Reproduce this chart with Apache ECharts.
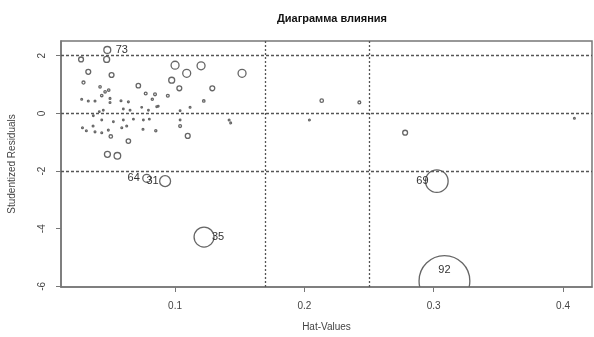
<!DOCTYPE html>
<html>
<head>
<meta charset="utf-8">
<script src="https://cdn.jsdelivr.net/npm/echarts@6/dist/echarts.min.js"></script>
<style>
  html, body { margin: 0; padding: 0; background: #fff; }
  #chart { width: 594px; height: 337px; }
</style>
</head>
<body>
<div id="chart"></div>
<script>
// influence plot data: hat value, studentized residual, Cook's distance
var hatValues = [
    0.0476, 0.0471, 0.0273, 0.0329, 0.0509, 0.0292, 0.0420, 0.0487, 0.0459, 0.0433,
    0.0716, 0.0773, 0.0845, 0.0824, 0.0944, 0.0974, 0.1000, 0.1090, 0.1033, 0.1201,
    0.1518, 0.1288, 0.1222, 0.1116, 0.1039, 0.0870, 0.1418, 0.1039, 0.1098, 0.1039,
    0.2134, 0.2425, 0.2039, 0.1430, 0.2779, 0.4088, 0.0781, 0.0923, 0.1224, 0.3024,
    0.3083, 0.0477, 0.0554, 0.0639, 0.0503, 0.0278, 0.0329, 0.0381, 0.0497, 0.0497,
    0.0582, 0.0639, 0.0445, 0.0414, 0.0600, 0.0652, 0.0742, 0.0794, 0.0858, 0.0368,
    0.0433, 0.0523, 0.0600, 0.0678, 0.0755, 0.0801, 0.0284, 0.0314, 0.0366, 0.0381,
    0.0433, 0.0484, 0.0588, 0.0626, 0.0752, 0.0851
];
var studRes = [
     2.20,  1.87,  1.87,  1.44,  1.33,  1.07,  0.92,  0.81,  0.75,  0.62,
     0.96,  0.69,  0.66,  0.49,  0.61,  1.15,  1.67,  1.39,  0.87,  1.65,
     1.39,  0.87,  0.43,  0.21,  0.09,  0.25, -0.23, -0.44, -0.78, -0.23,
     0.44,  0.38, -0.23, -0.33, -0.67, -0.17, -2.25, -2.35, -4.29, -2.35,
    -5.81, -1.42, -1.47, -0.96, -0.80,  0.49,  0.43,  0.43,  0.52,  0.38,
     0.44,  0.40,  0.11,  0.06,  0.15,  0.11,  0.21,  0.11,  0.23, -0.08,
    -0.23, -0.29, -0.23, -0.20, -0.23, -0.20, -0.50, -0.60, -0.44, -0.64,
    -0.67, -0.58, -0.50, -0.44, -0.55, -0.60
];
var cookD = [
    0.012, 0.009, 0.006, 0.006, 0.006, 0.0023, 0.0015, 0.0015, 0.0015, 0.0015,
    0.005, 0.002, 0.002, 0.0012, 0.002, 0.009, 0.016, 0.016, 0.006, 0.016,
    0.016, 0.006, 0.0015, 0.0008, 0.0006, 0.0006, 0.0008, 0.002, 0.006, 0.0006,
    0.003, 0.002, 0.0008, 0.0008, 0.006, 0.0008, 0.016, 0.03, 0.1, 0.129,
    0.65, 0.009, 0.011, 0.005, 0.003, 0.0008, 0.0008, 0.0008, 0.0008, 0.0008,
    0.0008, 0.0008, 0.0006, 0.0006, 0.0006, 0.0006, 0.0006, 0.0006, 0.0006, 0.0006,
    0.0006, 0.0006, 0.0006, 0.0006, 0.0006, 0.0006, 0.0008, 0.0008, 0.0008, 0.0008,
    0.0008, 0.0008, 0.0008, 0.0008, 0.0008, 0.0012
];
var pointIds = {0: '73', 36: '64', 37: '31', 38: '35', 39: '69', 40: '92'};
var hatTicks = [0.1, 0.2, 0.3, 0.4];
var resTicks = [-6, -4, -2, 0, 2];
var hatCutoffs = [0.1686, 0.2529];
var resCutoffs = [-2, 0, 2];

var FONT = 'Liberation Sans, Arial, sans-serif';
var labelSide = {
    '73': {dx: 5, dy: 0, align: 'left'},
    '64': {dx: -3, dy: 0, align: 'right'},
    '31': {dx: -1, dy: 0, align: 'right'},
    '35': {dx: -2, dy: 0, align: 'left'},
    '69': {dx: 3, dy: 0, align: 'right'},
    '92': {dx: 0, dy: -11, align: 'center'}
};

var points = hatValues.map(function (h, i) {
    return [h, studRes[i], cookD[i]];
});

function renderPoint(params, api) {
    var pt = api.coord([api.value(0), api.value(1)]);
    var r = Math.max(0.8, 31.5 * Math.sqrt(api.value(2)));
    var children = [{
        type: 'circle',
        shape: {cx: pt[0], cy: pt[1], r: r},
        style: {fill: 'none', stroke: '#666', lineWidth: 1.3}
    }];
    var id = pointIds[params.dataIndex];
    if (id) {
        var s = labelSide[id];
        var x = pt[0];
        if (s.align === 'left') x = pt[0] + r + s.dx;
        if (s.align === 'right') x = pt[0] - r + s.dx;
        children.push({
            type: 'text',
            x: x,
            y: pt[1] + s.dy,
            style: {
                text: id, fill: '#333', font: '11px ' + FONT,
                align: s.align, verticalAlign: 'middle'
            }
        });
    }
    return {type: 'group', children: children};
}

var chart = echarts.init(document.getElementById('chart'));
chart.setOption({
    animation: false,
    backgroundColor: '#fff',
    title: {
        text: 'Диаграмма влияния',
        left: 327,
        textAlign: 'center',
        top: 8,
        textStyle: {fontSize: 11, fontWeight: 'bold', color: '#111', fontFamily: FONT}
    },
    grid: {
        left: 61, right: 2, top: 41, bottom: 50,
        outerBoundsMode: 'none',
        containLabel: false,
        show: true, borderColor: '#777', borderWidth: 1.5, backgroundColor: 'transparent'
    },
    xAxis: {
        type: 'value',
        min: 0.0118,
        max: 0.4224,
        name: 'Hat-Values',
        nameLocation: 'middle',
        nameGap: 35,
        nameTextStyle: {fontSize: 10, color: '#444', fontFamily: FONT},
        axisLine: {show: true, onZero: false, lineStyle: {color: '#777', width: 1.5}},
        axisTick: {show: true, length: 5, customValues: hatTicks, lineStyle: {color: '#777'}},
        axisLabel: {customValues: hatTicks, fontSize: 10, color: '#444', margin: 14, fontFamily: FONT},
        splitLine: {show: false}
    },
    yAxis: {
        type: 'value',
        min: -6.02,
        max: 2.51,
        name: 'Studentized Residuals',
        nameLocation: 'middle',
        nameGap: 44,
        nameRotate: 90,
        nameTextStyle: {fontSize: 10, color: '#444', fontFamily: FONT},
        axisLine: {show: true, onZero: false, lineStyle: {color: '#777', width: 1.5}},
        axisTick: {show: true, length: 5, customValues: resTicks, lineStyle: {color: '#777'}},
        axisLabel: {customValues: resTicks, rotate: 90, fontSize: 10, color: '#444', margin: 14, fontFamily: FONT},
        splitLine: {show: false}
    },
    series: [{
        type: 'scatter',
        data: [],
        silent: true,
        markLine: {
            silent: true,
            symbol: 'none',
            label: {show: false},
            data: hatCutoffs.map(function (v) {
                return {xAxis: v, lineStyle: {color: '#555', width: 1.3, type: [2, 2]}};
            }).concat(resCutoffs.map(function (v) {
                return {yAxis: v, lineStyle: {color: '#555', width: 1.3, type: [3, 2]}};
            }))
        }
    }, {
        type: 'custom',
        clip: true,
        silent: true,
        renderItem: renderPoint,
        data: points
    }]
});
</script>
</body>
</html>
